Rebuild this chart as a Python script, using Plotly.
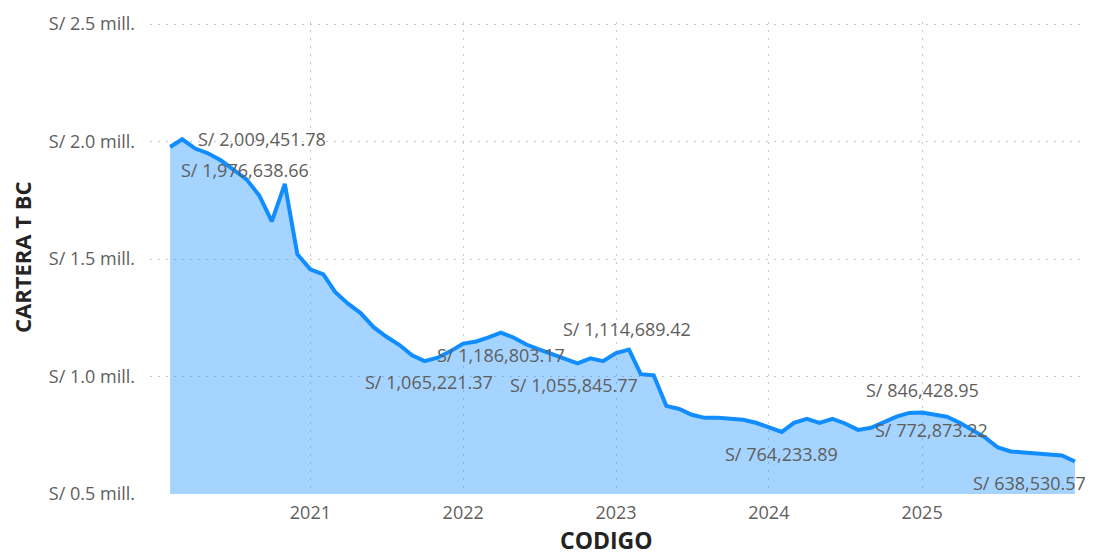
import pandas as pd
import plotly.graph_objects as go

# ---- data ----
start_month = "2020-02-01"
n_months = 72
months = pd.date_range(start_month, periods=n_months, freq="MS")

cartera = [
    1976638.66, 2009451.78, 1970000, 1950000, 1920000, 1880000, 1840000, 1770000,
    1660000, 1820000, 1520000, 1456000, 1435000, 1360000, 1310000, 1270000,
    1210000, 1170000, 1135000, 1090000, 1065221.37, 1080000, 1107000, 1140000,
    1149000, 1165000, 1186803.17, 1166000, 1136000, 1115000, 1094000, 1073000,
    1055845.77, 1077000, 1065000, 1100000, 1114689.42, 1010000, 1005000, 875000,
    862000, 837000, 824000, 824000, 822000, 816000, 803000, 782000,
    764233.89, 803000, 820000, 803000, 820000, 800000, 772873.22, 782000,
    807000, 829000, 845000, 846428.95, 837000, 829000, 803000, 774000,
    740000, 698000, 681000, 677000, 673000, 668000, 664000, 638530.57,
]

y_ticks = [500000, 1000000, 1500000, 2000000, 2500000]
y_ticktext = ["S/ 0.5 mill.", "S/ 1.0 mill.", "S/ 1.5 mill.", "S/ 2.0 mill.", "S/ 2.5 mill."]
year_ticks = ["2021-01-01", "2022-01-01", "2023-01-01", "2024-01-01", "2025-01-01"]
year_labels = ["2021", "2022", "2023", "2024", "2025"]

# labelled points: (index, xshift, yshift)
label_idx = [0, 1, 20, 26, 32, 36, 48, 54, 59, 71]
label_dx = [75, 80, 4, 0, -4, -2, 0, 73, 0, -45]
label_dy = [-23, 0, -21, -22, -22, 21, -22, 0, 23, -22]

FONT = "Open Sans"
GRAY = "#605E5C"
DARK = "#252423"

fig = go.Figure()
fig.add_trace(go.Scatter(
    x=months, y=cartera, mode="lines",
    line=dict(color="#118DFF", width=4),
    fill="tozeroy", fillcolor="rgba(17,141,255,0.38)",
    hoverinfo="skip", showlegend=False,
))

for i, dx, dy in zip(label_idx, label_dx, label_dy):
    fig.add_annotation(
        x=months[i], y=cartera[i], xref="x", yref="y",
        text=f"S/ {cartera[i]:,.2f}", showarrow=False,
        xshift=dx, yshift=dy,
        font=dict(family=FONT, size=18, color=GRAY),
    )

# axis titles
fig.add_annotation(
    text="<b>CARTERA T BC</b>", xref="paper", yref="paper",
    x=0, y=0.5, xshift=-128, xanchor="center", yanchor="middle",
    textangle=-90, showarrow=False,
    font=dict(family=FONT, size=22, color=DARK),
)
fig.add_annotation(
    text="<b>CODIGO</b>", xref="paper", yref="paper",
    x=0.486, y=0, yshift=-46, xanchor="center", yanchor="middle", showarrow=False,
    font=dict(family=FONT, size=23, color=DARK),
)

GRID = dict(showgrid=True, gridcolor="#C8C8C8", griddash="2px,6px", gridwidth=1,
            zeroline=False, showline=False, ticks="")

fig.update_layout(
    width=1085, height=547,
    margin=dict(l=142, r=3, t=10, b=61),
    paper_bgcolor="white", plot_bgcolor="white",
    font=dict(family=FONT, color=GRAY),
    xaxis=dict(
        type="date",
        range=["2019-12-15", "2026-02-06"],
        tickvals=year_ticks, ticktext=year_labels,
        ticklabelstandoff=6,
        tickfont=dict(family=FONT, size=18, color=GRAY),
        **GRID,
    ),
    yaxis=dict(
        range=[500000, 2508500],
        tickvals=y_ticks, ticktext=y_ticktext,
        ticklabelstandoff=14, ticklabeloverflow="allow",
        tickfont=dict(family=FONT, size=18, color=GRAY),
        **GRID,
    ),
)

fig.write_html("out.html")
